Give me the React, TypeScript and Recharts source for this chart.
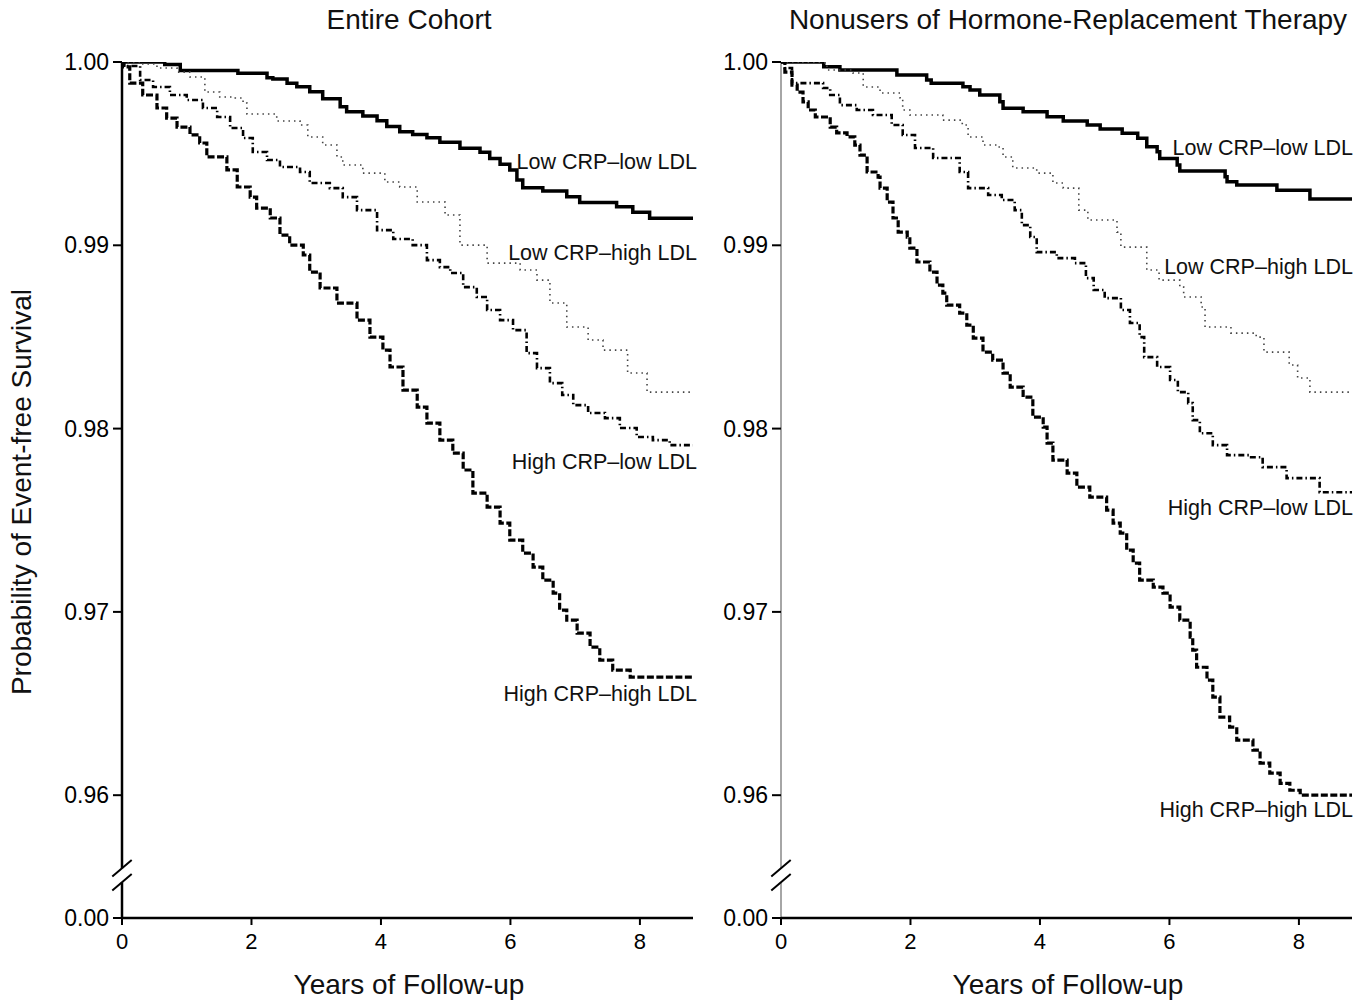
import { LineChart, Line, XAxis, YAxis, ReferenceLine } from "recharts"

// time in years, event-free survival probability
const entireLowLow = [
  [0, 1], [0.66, 0.99987], [0.9, 0.99953], [1.79, 0.99938], [2.24, 0.99914], [2.33, 0.99907],
  [2.55, 0.99884], [2.7, 0.99865], [2.9, 0.99838], [3.1, 0.998], [3.37, 0.99756], [3.47, 0.99728],
  [3.72, 0.99705], [3.94, 0.9968], [4.09, 0.99648], [4.29, 0.9962], [4.49, 0.99605], [4.71, 0.99587],
  [4.91, 0.99562], [5.22, 0.99529], [5.53, 0.99507], [5.68, 0.99474], [5.84, 0.99442], [5.99, 0.99411],
  [6.1, 0.99356], [6.19, 0.99314], [6.5, 0.99296], [6.87, 0.99265], [7.07, 0.99234], [7.64, 0.9921],
  [7.89, 0.9918], [8.15, 0.99147], [8.82, 0.99147],
]
const entireLowHigh = [
  [0, 1], [0.28, 0.99989], [0.54, 0.99967], [0.85, 0.99945], [1.05, 0.99918], [1.28, 0.99836],
  [1.51, 0.99809], [1.75, 0.99804], [1.87, 0.99776], [1.93, 0.99716], [2.39, 0.99678], [2.75, 0.99656],
  [2.87, 0.99591], [3.1, 0.99547], [3.32, 0.99482], [3.41, 0.99438], [3.72, 0.99394], [4.06, 0.99345],
  [4.29, 0.99318], [4.56, 0.99236], [4.99, 0.99165], [5.22, 0.99001], [5.64, 0.98903], [6.15, 0.98865],
  [6.41, 0.9881], [6.61, 0.98685], [6.87, 0.98554], [7.2, 0.98483], [7.43, 0.98428], [7.81, 0.98303],
  [8.11, 0.98199], [8.82, 0.98199],
]
const entireHighLow = [
  [0, 1], [0.03, 0.99978], [0.28, 0.99902], [0.48, 0.99864], [0.74, 0.9982], [1.0, 0.99793],
  [1.25, 0.99749], [1.47, 0.997], [1.67, 0.9964], [1.87, 0.99585], [2.02, 0.99509], [2.24, 0.99465],
  [2.44, 0.99427], [2.75, 0.994], [2.9, 0.9934], [3.21, 0.99312], [3.41, 0.99263], [3.63, 0.99192],
  [3.94, 0.99083], [4.19, 0.99034], [4.49, 0.99001], [4.71, 0.98919], [4.91, 0.98881], [5.07, 0.98849],
  [5.27, 0.98772], [5.48, 0.98718], [5.64, 0.98647], [5.84, 0.98592], [6.04, 0.98537], [6.25, 0.98412],
  [6.41, 0.9833], [6.61, 0.98248], [6.8, 0.98183], [6.97, 0.98128], [7.2, 0.98085], [7.46, 0.98057],
  [7.69, 0.98003], [7.95, 0.97954], [8.2, 0.97937], [8.46, 0.9791], [8.82, 0.9791],
]
const entireHighHigh = [
  [0, 1], [0.03, 0.99973], [0.12, 0.99885], [0.32, 0.9982], [0.54, 0.99749], [0.69, 0.99694],
  [0.85, 0.99645], [1.05, 0.99602], [1.2, 0.99558], [1.31, 0.99482], [1.62, 0.99411], [1.78, 0.99318],
  [1.98, 0.99263], [2.08, 0.99203], [2.29, 0.99149], [2.44, 0.99056], [2.59, 0.99001], [2.8, 0.98947],
  [2.9, 0.98854], [3.06, 0.98767], [3.32, 0.98685], [3.63, 0.98592], [3.83, 0.98499], [4.03, 0.98428],
  [4.14, 0.98336], [4.34, 0.9821], [4.56, 0.98117], [4.71, 0.9803], [4.91, 0.97937], [5.11, 0.97866],
  [5.27, 0.97774], [5.42, 0.97648], [5.64, 0.97572], [5.84, 0.97484], [5.99, 0.97392], [6.19, 0.97321],
  [6.35, 0.97244], [6.5, 0.97173], [6.66, 0.97102], [6.76, 0.9701], [6.87, 0.96955], [7.03, 0.96884],
  [7.23, 0.96808], [7.38, 0.96737], [7.58, 0.96682], [7.85, 0.96644], [8.82, 0.96644],
]

const nonusersLowLow = [
  [0, 1], [0.66, 0.99974], [0.91, 0.99956], [1.79, 0.99929], [2.25, 0.99902], [2.32, 0.99884],
  [2.81, 0.99865], [2.92, 0.99847], [3.07, 0.9982], [3.38, 0.99783], [3.43, 0.99747], [3.74, 0.99729],
  [4.11, 0.99701], [4.36, 0.99678], [4.73, 0.99656], [4.93, 0.99634], [5.27, 0.99611], [5.51, 0.99584],
  [5.65, 0.99538], [5.81, 0.99511], [5.85, 0.99474], [6.12, 0.99438], [6.16, 0.99405], [6.86, 0.99374],
  [6.89, 0.99347], [7.04, 0.99329], [7.66, 0.99301], [8.17, 0.99252], [8.82, 0.99252],
]
const nonusersLowHigh = [
  [0, 1], [0.29, 0.99995], [0.71, 0.99956], [1.11, 0.9994], [1.27, 0.99864], [1.53, 0.99831],
  [1.84, 0.99804], [1.88, 0.99738], [1.99, 0.99711], [2.5, 0.99683], [2.8, 0.99656], [2.89, 0.99591],
  [3.12, 0.99547], [3.34, 0.99536], [3.43, 0.99482], [3.58, 0.99422], [3.95, 0.99394], [4.2, 0.9934],
  [4.36, 0.99312], [4.6, 0.99192], [4.74, 0.99138], [5.19, 0.99072], [5.25, 0.9899], [5.65, 0.98865],
  [5.84, 0.9881], [6.16, 0.98772], [6.22, 0.98718], [6.49, 0.98663], [6.55, 0.98554], [6.95, 0.98521],
  [7.34, 0.98499], [7.46, 0.98417], [7.85, 0.98347], [7.98, 0.98276], [8.17, 0.98199], [8.82, 0.98199],
]
const nonusersHighLow = [
  [0, 1], [0.06, 0.99967], [0.17, 0.99885], [0.65, 0.99858], [0.76, 0.9982], [0.91, 0.99765],
  [1.17, 0.99738], [1.42, 0.99711], [1.71, 0.99656], [1.88, 0.99602], [2.07, 0.99531], [2.35, 0.99476],
  [2.76, 0.994], [2.89, 0.99312], [3.2, 0.99274], [3.41, 0.99247], [3.61, 0.99192], [3.72, 0.9911],
  [3.85, 0.99045], [3.95, 0.98963], [4.26, 0.9893], [4.54, 0.98903], [4.71, 0.98821], [4.83, 0.98756],
  [5.0, 0.98712], [5.25, 0.98647], [5.39, 0.98576], [5.54, 0.98499], [5.61, 0.9839], [5.81, 0.98336],
  [6.01, 0.98265], [6.13, 0.98199], [6.29, 0.98139], [6.36, 0.98046], [6.47, 0.97975], [6.67, 0.9791],
  [6.89, 0.97855], [7.24, 0.97844], [7.44, 0.9779], [7.81, 0.9773], [8.32, 0.97653], [8.82, 0.97653],
]
const nonusersHighHigh = [
  [0, 1], [0.06, 0.99945], [0.17, 0.99874], [0.25, 0.99836], [0.34, 0.99782], [0.42, 0.99738],
  [0.53, 0.997], [0.76, 0.99645], [0.86, 0.99613], [1.02, 0.99591], [1.14, 0.99547], [1.22, 0.99492],
  [1.33, 0.994], [1.5, 0.99372], [1.53, 0.99312], [1.64, 0.99236], [1.73, 0.99149], [1.81, 0.99072],
  [1.95, 0.99045], [1.99, 0.98985], [2.1, 0.98909], [2.3, 0.98854], [2.41, 0.98783], [2.5, 0.98739],
  [2.56, 0.98674], [2.76, 0.9863], [2.87, 0.98565], [2.97, 0.98494], [3.12, 0.98417], [3.27, 0.98374],
  [3.43, 0.98303], [3.54, 0.98226], [3.74, 0.98172], [3.89, 0.98063], [4.05, 0.98008], [4.11, 0.97921],
  [4.2, 0.97828], [4.42, 0.97757], [4.57, 0.97681], [4.77, 0.97626], [5.03, 0.97555], [5.13, 0.97484],
  [5.24, 0.9743], [5.34, 0.97337], [5.44, 0.97266], [5.54, 0.97173], [5.75, 0.97135], [5.9, 0.97102],
  [6.01, 0.97026], [6.16, 0.96955], [6.32, 0.96862], [6.36, 0.96791], [6.42, 0.96698], [6.58, 0.96628],
  [6.67, 0.96535], [6.78, 0.96426], [6.93, 0.96371], [7.04, 0.963], [7.29, 0.96246], [7.4, 0.96175],
  [7.55, 0.9612], [7.71, 0.96065], [7.86, 0.96027], [8.02, 0.96], [8.82, 0.96],
]

const seriesNames = ["Low CRP\u2013low LDL", "Low CRP\u2013high LDL", "High CRP\u2013low LDL", "High CRP\u2013high LDL"]
const panelTitles = ["Entire Cohort", "Nonusers of Hormone-Replacement Therapy"]

const xTicks = [0, 2, 4, 6, 8]
const X_END = 8.82
const Y_FLOOR = 0.9533 // printed as 0.00 below the axis break
const yTicks = [Y_FLOOR, 0.96, 0.97, 0.98, 0.99, 1.0]
const yTickLabels = ["0.00", "0.96", "0.97", "0.98", "0.99", "1.00"]
const BREAK_LO = 0.95525
const BREAK_HI = 0.95602

const FONT = "'Liberation Sans', Arial, sans-serif"

const toRows = (pts: number[][]) => pts.map(([t, s]) => ({ t, s }))

const lineStyles = [
  { stroke: "#000", strokeWidth: 3.5, strokeDasharray: undefined },
  { stroke: "#444", strokeWidth: 1.6, strokeDasharray: "1.5 4" },
  { stroke: "#000", strokeWidth: 2.6, strokeDasharray: "6 3 1.5 3" },
  { stroke: "#000", strokeWidth: 3.2, strokeDasharray: "7 2.5" },
]

function Panel({ series, left, width, axisColor, axisWidth }: any) {
  return (
    <div style={{ position: "absolute", left, top: 0 }}>
      <LineChart
        width={width}
        height={1000}
        margin={{ top: 62, right: 7, bottom: 52, left: left === 0 ? 62 : 21 }}
      >
        <XAxis
          type="number"
          dataKey="t"
          domain={[0, X_END]}
          ticks={xTicks}
          interval={0}
          allowDataOverflow
          height={30}
          axisLine={{ stroke: "#000", strokeWidth: 2.5 }}
          tickLine={{ stroke: "#000", strokeWidth: 2 }}
          tickSize={7}
          tickMargin={8}
          tick={{ fill: "#000", fontSize: 22, fontFamily: FONT }}
        />
        <YAxis
          type="number"
          dataKey="s"
          domain={[Y_FLOOR, 1]}
          ticks={yTicks}
          interval={0}
          allowDataOverflow
          width={60}
          axisLine={false}
          tickLine={{ stroke: "#000", strokeWidth: 2 }}
          tickSize={9}
          tickMargin={4}
          tickFormatter={(v: number) => yTickLabels[yTicks.indexOf(v)] ?? ""}
          tick={{ fill: "#000", fontSize: 23, fontFamily: FONT }}
        />
        <ReferenceLine
          segment={[{ x: 0, y: 1 }, { x: 0, y: BREAK_HI }]}
          stroke={axisColor}
          strokeWidth={axisWidth}
          ifOverflow="visible"
        />
        <ReferenceLine
          segment={[{ x: 0, y: BREAK_LO }, { x: 0, y: Y_FLOOR }]}
          stroke={axisColor}
          strokeWidth={axisWidth}
          ifOverflow="visible"
        />
        <ReferenceLine
          segment={[{ x: -0.15, y: BREAK_HI - 0.00045 }, { x: 0.15, y: BREAK_HI + 0.00045 }]}
          stroke="#000"
          strokeWidth={2}
          ifOverflow="visible"
        />
        <ReferenceLine
          segment={[{ x: -0.15, y: BREAK_LO - 0.00045 }, { x: 0.15, y: BREAK_LO + 0.00045 }]}
          stroke="#000"
          strokeWidth={2}
          ifOverflow="visible"
        />
        {series.map((pts: number[][], i: number) => (
          <Line
            key={seriesNames[i]}
            data={toRows(pts)}
            dataKey="s"
            name={seriesNames[i]}
            type="stepAfter"
            dot={false}
            isAnimationActive={false}
            {...lineStyles[i]}
          />
        ))}
      </LineChart>
    </div>
  )
}

function Txt({ x, y, size, anchor = "middle", rotate = false, children }: any) {
  const shift = anchor === "end" ? "-100%" : "-50%"
  return (
    <div
      style={{
        position: "absolute",
        left: x,
        top: y,
        fontFamily: FONT,
        fontSize: size,
        color: "#111",
        whiteSpace: "nowrap",
        lineHeight: 1,
        transform: `translate(${shift}, -50%)${rotate ? " rotate(-90deg)" : ""}`,
      }}
    >
      {children}
    </div>
  )
}

export default function App() {
  return (
    <div style={{ position: "absolute", left: 0, top: 0, width: 1359, height: 1000, background: "#fff" }}>
      <Panel
        series={[entireLowLow, entireLowHigh, entireHighLow, entireHighHigh]}
        left={0}
        width={700}
        axisColor="#000"
        axisWidth={2.5}
      />
      <Panel
        series={[nonusersLowLow, nonusersLowHigh, nonusersHighLow, nonusersHighHigh]}
        left={700}
        width={659}
        axisColor="#888"
        axisWidth={1.5}
      />

      <Txt x={409} y={20} size={28}>{panelTitles[0]}</Txt>
      <Txt x={1068} y={20} size={28}>{panelTitles[1]}</Txt>
      <Txt x={409} y={985} size={28}>Years of Follow-up</Txt>
      <Txt x={1068} y={985} size={28}>Years of Follow-up</Txt>
      <Txt x={22} y={492} size={28} rotate>Probability of Event-free Survival</Txt>

      <Txt x={697} y={163} size={21.5} anchor="end">{seriesNames[0]}</Txt>
      <Txt x={697} y={254} size={21.5} anchor="end">{seriesNames[1]}</Txt>
      <Txt x={697} y={463} size={21.5} anchor="end">{seriesNames[2]}</Txt>
      <Txt x={697} y={695} size={21.5} anchor="end">{seriesNames[3]}</Txt>

      <Txt x={1353} y={149} size={21.5} anchor="end">{seriesNames[0]}</Txt>
      <Txt x={1353} y={268} size={21.5} anchor="end">{seriesNames[1]}</Txt>
      <Txt x={1353} y={509} size={21.5} anchor="end">{seriesNames[2]}</Txt>
      <Txt x={1353} y={811} size={21.5} anchor="end">{seriesNames[3]}</Txt>
    </div>
  )
}
